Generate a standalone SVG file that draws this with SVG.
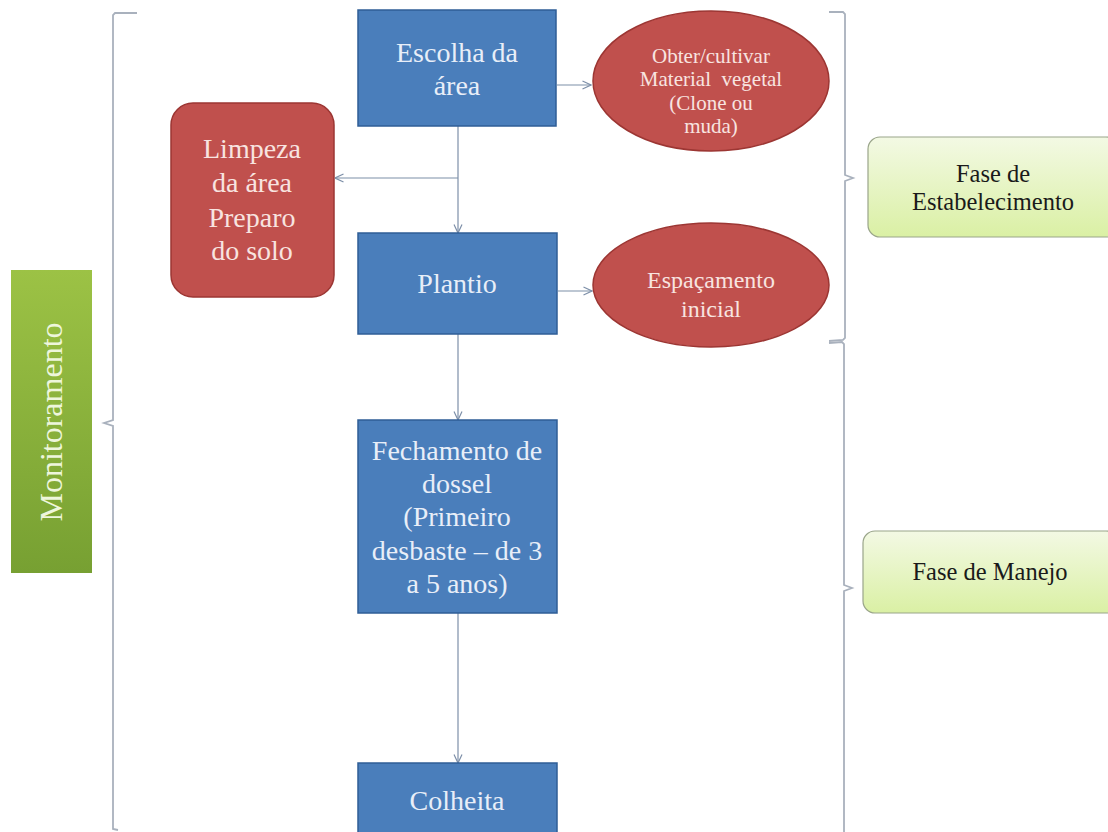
<svg xmlns="http://www.w3.org/2000/svg" width="1108" height="832" viewBox="0 0 1108 832">
<defs>
<style>
.blue{fill:#4a7ebb;stroke:#2f5e96;stroke-width:1.5}
.red{fill:#c0504d;stroke:#9c3633;stroke-width:1.5}
.phase{fill:url(#gPhase);stroke:#9aa58a;stroke-width:1.2}
text{font-family:'Liberation Serif','Times New Roman',serif;text-anchor:middle}
.wt{fill:#e8eef8;font-size:28px}
.rt{fill:#f8e4e0}
.dt{fill:#1a1a1a;font-size:24.5px}
.conn{stroke:#7d8fa8;stroke-width:1.2;fill:none}
.brace{stroke:#a9b1bd;stroke-width:1.8;fill:none}
</style>
<linearGradient id="gPhase" x1="0" y1="0" x2="0" y2="1">
<stop offset="0" stop-color="#f3f9e4"/>
<stop offset="1" stop-color="#daf0a4"/>
</linearGradient>
<linearGradient id="gGreen" x1="0" y1="0" x2="0" y2="1">
<stop offset="0" stop-color="#9cc245"/>
<stop offset="1" stop-color="#77a032"/>
</linearGradient>
<marker id="arr" viewBox="0 0 10 10" refX="9.5" refY="5" markerWidth="10" markerHeight="10" markerUnits="userSpaceOnUse" orient="auto">
<path d="M1,1 L9.5,5 L1,9" fill="none" stroke="#7d8fa8" stroke-width="1.2"/>
</marker>
</defs>
<rect width="1108" height="832" fill="#ffffff"/>

<g id="connectors">
<line class="conn" x1="557" y1="85" x2="591" y2="85" marker-end="url(#arr)"/>
<line class="conn" x1="458" y1="126" x2="458" y2="233" marker-end="url(#arr)"/>
<line class="conn" x1="458" y1="178" x2="335" y2="178" marker-end="url(#arr)"/>
<line class="conn" x1="558" y1="291" x2="592" y2="291" marker-end="url(#arr)"/>
<line class="conn" x1="458" y1="334" x2="458" y2="420" marker-end="url(#arr)"/>
<line class="conn" x1="458" y1="613" x2="458" y2="763" marker-end="url(#arr)"/>
</g>

<g id="braces">
<path class="brace" d="M137,13 L115,13 L113,15 L113,420 L104,423 L113,426 L113,829 L118,830"/>
<path class="brace" d="M829,12 L843,12 L845,14 L845,175 L853,178 L845,181 L845,338 L843,340 L829,341"/>
<path class="brace" d="M829,343 L842,342 L844,344 L844,585 L852,588 L844,591 L844,832"/>
</g>

<g id="monitoramento">
<rect x="11" y="270" width="81" height="303" fill="url(#gGreen)"/>
<text transform="translate(62,422) rotate(-90)" font-size="32" fill="#eef6dc">Monitoramento</text>
</g>

<g id="escolha">
<rect class="blue" x="358" y="10" width="198" height="116"/>
<text class="wt"><tspan x="457" y="62">Escolha da</tspan><tspan x="457" y="95">área</tspan></text>
</g>

<g id="material">
<ellipse class="red" cx="711" cy="81" rx="118" ry="70"/>
<text class="rt" font-size="21"><tspan x="711" y="63">Obter/cultivar</tspan><tspan x="711" y="86">Material&#160; vegetal</tspan><tspan x="711" y="110">(Clone ou</tspan><tspan x="711" y="133">muda)</tspan></text>
</g>

<g id="limpeza">
<rect class="red" x="171" y="103" width="163" height="194" rx="22" ry="22"/>
<text class="rt" font-size="28"><tspan x="252" y="158">Limpeza</tspan><tspan x="252" y="192">da área</tspan><tspan x="252" y="227">Preparo</tspan><tspan x="252" y="260">do solo</tspan></text>
</g>

<g id="plantio">
<rect class="blue" x="358" y="233" width="199" height="101"/>
<text class="wt" x="457" y="293">Plantio</text>
</g>

<g id="espacamento">
<ellipse class="red" cx="711" cy="285" rx="118" ry="62"/>
<text class="rt" font-size="24"><tspan x="711" y="288">Espaçamento</tspan><tspan x="711" y="317">inicial</tspan></text>
</g>

<g id="fechamento">
<rect class="blue" x="358" y="420" width="199" height="193"/>
<text class="wt"><tspan x="457" y="460">Fechamento de</tspan><tspan x="457" y="493">dossel</tspan><tspan x="457" y="526">(Primeiro</tspan><tspan x="457" y="560">desbaste – de 3</tspan><tspan x="457" y="593">a 5 anos)</tspan></text>
</g>

<g id="colheita">
<rect class="blue" x="358" y="763" width="199" height="75"/>
<text class="wt" x="457" y="810">Colheita</text>
</g>

<g id="fase-estabelecimento">
<rect class="phase" x="868" y="137" width="250" height="100" rx="12" ry="12"/>
<text class="dt"><tspan x="993" y="182">Fase de</tspan><tspan x="993" y="210">Estabelecimento</tspan></text>
</g>

<g id="fase-manejo">
<rect class="phase" x="863" y="531" width="255" height="82" rx="12" ry="12"/>
<text class="dt" x="990" y="580">Fase de Manejo</text>
</g>
</svg>
